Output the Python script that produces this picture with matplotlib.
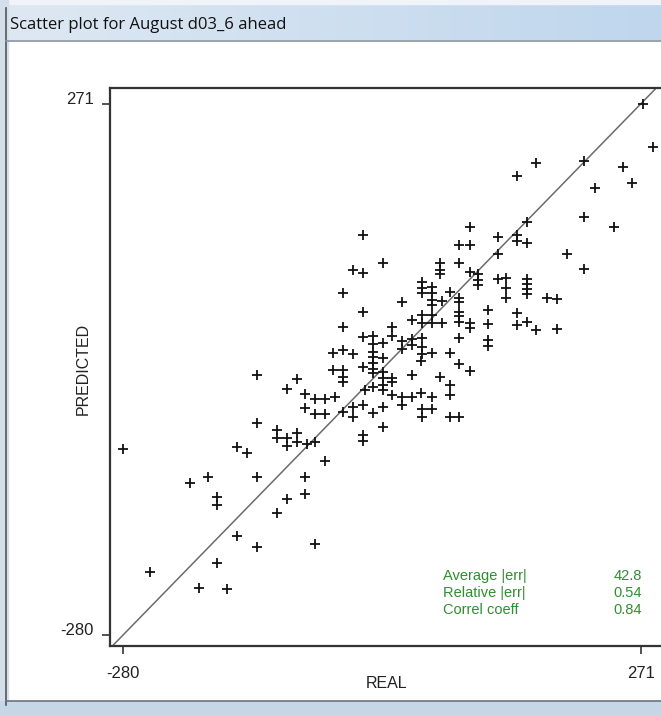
import matplotlib
matplotlib.use("Agg")
import matplotlib.pyplot as plt
import numpy as np
from matplotlib.patches import Rectangle

# ---------------- data ----------------
real = [273, 284, 160, 139, 211, 252, 222, 262, 211, 243, 192, 211,
        -25, -3, -35, -25, -46, -25, -46, 89, 150, 78, 89, 119, 139, 139, 150, 119,
        57, 57, 57, 78, 89, 98, 98, 98, 38, 38, 38, 49, 49, 49, 49, 59, 68,
        78, 78, 78, 78, 119, 128, 128, 128, 150, 150, 150, 150, 171, 182,
        17, 108, 108, 139, 139, 150, 160, 182, 27, 38, 38, 49, 49, 59, 78, 89, 89,
        6, 6, -3, 17, 17, 27, 27, 38, 38, 38, 49, 68, 78, 108, 108, 37, 78, 89,
        -25, -14, -14, -14, -14, -14, -3, -57, -46, -35, -57, -46, -46, -46,
        -25, -14, -14, -3, -3, -3, 6, 6, 27, 57, 68, -3, 6, 17, 17, 27, 37, 49, 68,
        -3, 38, 38, 49, 68, 78, -3, -23, -14, -35, -25, -46, -35, -14, -25, -25,
        -137, -95, -106, -86, -76, -65, -54, -86, -76, -65, -137, -116, -116, -106,
        -95, -95, -84, -106, -76, -280, -159, -148, -65, -209, -190, -137, -180,
        -180, -86, -86, -106, -116, -159, -137, -76, -251, -180, -199, -169]
predicted = [271, 226, 210, 196, 212, 206, 184, 189, 154, 143, 115, 100,
             135, 106, 99, 96, 75, 55, 39, 143, 148, 125, 125, 133, 135, 129, 127, 115,
             106, 99, 94, 106, 97, 94, 88, 83, 86, 80, 75, 81, 75, 68, 62, 67, 76,
             70, 65, 55, 51, 89, 90, 80, 70, 89, 84, 79, 74, 70, 69,
             65, 57, 43, 54, 42, 45, 36, 37, 47, 52, 44, 52, 44, 44, 45, 44, 38,
             39, 30, 23, 25, 17, 27, 21, 28, 19, 12, 13, 13, 28, 26, 20, 4, 1, -6,
             29, 30, 22, 14, 8, 2, 7, 13, 16, 11, -5, -5, -12, -18,
             -2, -4, -8, -7, -13, -21, -13, -18, -10, -12, -21, -26, -31, -33, -41, -33, -29, -33, -31,
             -44, -46, -54, -46, -54, -54, -64, -26, -23, -43, -41, -49, -54, -50, -73, -79,
             -10, -14, -25, -30, -35, -35, -33, -45, -51, -51, -60, -67, -76, -76,
             -71, -80, -82, -84, -80, -87, -85, -91, -100, -122, -116, -116, -137,
             -145, -116, -134, -139, -153, -177, -189, -186, -215, -205, -231, -232]

axis_min, axis_max = -280, 271
stat_names = ["Average |err|", "Relative |err|", "Correl coeff"]
stat_values = ["42.8", "0.54", "0.84"]
title = "Scatter plot for August d03_6 ahead"
x_label = "REAL"
y_label = "PREDICTED"

# ---------------- figure & window chrome ----------------
W, H = 661, 715
fig = plt.figure(figsize=(W / 100, H / 100), dpi=100)
bg = fig.add_axes([0, 0, 1, 1], zorder=0)
bg.set_xlim(0, W)
bg.set_ylim(H, 0)
bg.axis("off")

grad = np.linspace(0, 1, 256)
c1 = np.array([0.87, 0.91, 0.95])
c2 = np.array([0.75, 0.84, 0.93])
img = (c1[None, :] * (1 - grad[:, None]) + c2[None, :] * grad[:, None])[None, :, :]
bg.imshow(img, extent=(0, W, 40, 4), aspect="auto", zorder=1)
bg.add_patch(Rectangle((0, 0), W, 4, color="#f0f4f8", zorder=1))
bg.add_patch(Rectangle((0, 0), 8, H, color="#d3dfeb", zorder=1))
bg.plot([6, 6], [8, 705], color="#555555", lw=1.2, zorder=2)
bg.plot([6, W], [40.5, 40.5], color="#8894a0", lw=1.2, zorder=2)
bg.add_patch(Rectangle((0, 701), W, 14, color="#c6d6e6", zorder=1))
bg.plot([6, W], [700.5, 700.5], color="#6a7480", lw=1.2, zorder=2)
bg.text(10, 25, title, fontsize=12, family="Open Sans", color="#111111",
        va="center", ha="left", zorder=3)

# ---------------- scatter axes ----------------
px_left, px_top, px_bottom, px_right = 110, 88, 646, 668
ax = fig.add_axes([px_left / W, (H - px_bottom) / H,
                   (px_right - px_left) / W, (px_bottom - px_top) / H], zorder=1)
ax.set_facecolor("none")
ax.set_xlim(-294, 300)
ax.set_ylim(-291.5, 287.5)

ax.plot([-300, 300], [-300, 300], color="#6b6b6b", lw=1.1, zorder=2)
ax.plot(real, predicted, linestyle="none", marker="+", ms=7.5, mew=1.3,
        color="#111111", zorder=3)

for s in ["left", "bottom", "top"]:
    ax.spines[s].set_linewidth(1.6)
    ax.spines[s].set_color("#333333")
ax.spines["right"].set_visible(False)

ax.set_xticks([axis_min, axis_max])
ax.set_xticklabels([str(axis_min), str(axis_max)])
ax.set_yticks([axis_min, axis_max])
ax.set_yticklabels([str(axis_min), str(axis_max)])
ax.tick_params(length=5.5, width=1.2, colors="#333333", labelsize=12,
               labelcolor="#222222")
ax.tick_params(axis="x", pad=9)
ax.tick_params(axis="y", pad=6)
for lab in ax.get_xticklabels() + ax.get_yticklabels():
    lab.set_family("Liberation Sans")
for lab in ax.get_yticklabels():
    lab.set_verticalalignment("baseline")

bg.text(387, 684, x_label, fontsize=11.5, family="Liberation Sans", color="#222222",
        ha="center", va="center", zorder=3)
bg.text(83, 369, y_label, fontsize=11.5, family="Liberation Sans", color="#222222",
        ha="center", va="center", rotation=90, zorder=3)

# statistics block
green = "#2f8f2f"
for i, (n, v) in enumerate(zip(stat_names, stat_values)):
    y = 576 + 17 * i
    bg.text(443, y, n, fontsize=10.5, family="Liberation Sans", color=green,
            va="center", ha="left", zorder=3)
    bg.text(642, y, v, fontsize=10.5, family="Liberation Sans", color=green,
            va="center", ha="right", zorder=3)

fig.savefig("out.png", dpi=100)
